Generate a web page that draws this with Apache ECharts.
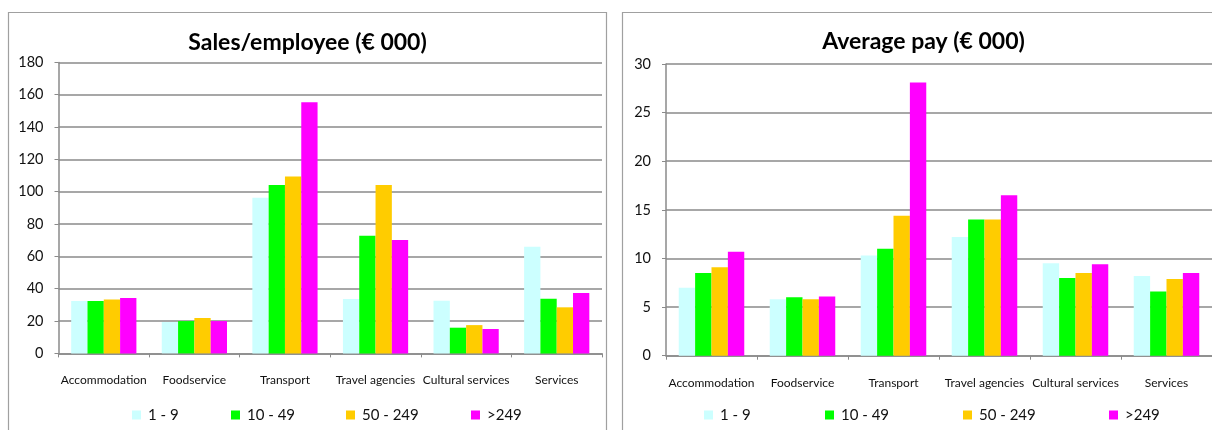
<!DOCTYPE html>
<html>
<head>
<meta charset="utf-8">
<script src="https://cdn.jsdelivr.net/npm/echarts@6/dist/echarts.min.js"></script>
<style>
  html, body { margin: 0; padding: 0; background: #fff; }
  #chart { width: 1212px; height: 430px; }
</style>
</head>
<body>
<div id="chart"></div>
<script>
// Sectors on the category axis
const categories = ['Accommodation', 'Foodservice', 'Transport', 'Travel agencies', 'Cultural services', 'Services'];

// Company size classes (number of employees)
const sizeClasses = ['1 - 9', '10 - 49', '50 - 249', '>249'];
const sizeColors = ['#CCFFFF', '#00FF00', '#FFCC00', '#FF00FF'];

// Sales per employee (€ 000) by size class
const sales_1_9 = [32.4, 19.4, 96.3, 33.6, 32.6, 66.0];
const sales_10_49 = [32.4, 20.0, 104.1, 72.8, 15.9, 33.8];
const sales_50_249 = [33.4, 21.9, 109.5, 104.1, 17.5, 28.5];
const sales_250 = [34.2, 20.0, 155.3, 70.1, 15.1, 37.3];

// Average pay (€ 000) by size class
const pay_1_9 = [7.0, 5.8, 10.3, 12.2, 9.5, 8.2];
const pay_10_49 = [8.5, 6.0, 11.0, 14.0, 8.0, 6.6];
const pay_50_249 = [9.1, 5.8, 14.4, 14.0, 8.5, 7.9];
const pay_250 = [10.7, 6.1, 28.1, 16.5, 9.4, 8.5];

// Value-axis ticks
const salesTicks = { min: 0, max: 180, interval: 20 };
const payTicks = { min: 0, max: 30, interval: 5 };

const FONT = 'Lato, "Open Sans", sans-serif';
const GRID_GRAY = '#8a8a8a';

const salesSeries = [sales_1_9, sales_10_49, sales_50_249, sales_250];
const paySeries = [pay_1_9, pay_10_49, pay_50_249, pay_250];

function xAxisFor(gridIndex) {
  return {
    type: 'category',
    gridIndex,
    data: categories,
    axisLine: { show: true, lineStyle: { color: GRID_GRAY, width: 1.5 } },
    axisTick: { show: true, alignWithLabel: false, length: 4, lineStyle: { color: GRID_GRAY } },
    axisLabel: { interval: 0, hideOverlap: false, color: '#111', fontFamily: FONT, fontSize: 12, margin: 21 }
  };
}

function yAxisFor(gridIndex, ticks) {
  return {
    type: 'value',
    gridIndex,
    min: ticks.min,
    max: ticks.max,
    interval: ticks.interval,
    axisLine: { show: true, lineStyle: { color: GRID_GRAY, width: 1.5 } },
    axisTick: { show: true, length: 4, lineStyle: { color: GRID_GRAY } },
    axisLabel: { color: '#111', fontFamily: FONT, fontSize: 14.5, margin: 15 },
    splitLine: { show: true, lineStyle: { color: GRID_GRAY, width: 1.5 } }
  };
}

function barsFor(values, axisIndex) {
  return sizeClasses.map((name, i) => ({
    name,
    type: 'bar',
    xAxisIndex: axisIndex,
    yAxisIndex: axisIndex,
    data: values[i],
    barGap: '0%',
    barCategoryGap: '28%',
    itemStyle: { color: sizeColors[i] },
    emphasis: { disabled: true }
  }));
}

// One single-entry legend per size class, placed along the bottom of each panel
const legendSpots = [
  [132, 231, 346, 471],
  [704, 825, 963, 1109]
];
const legends = [];
legendSpots.forEach(row => {
  row.forEach((x, i) => {
    legends.push({
      data: [sizeClasses[i]],
      left: x,
      top: 407,
      padding: 0,
      itemWidth: 9,
      itemHeight: 9,
      icon: 'rect',
      selectedMode: false,
      textStyle: { fontFamily: FONT, fontSize: 15, color: '#111', lineHeight: 16, padding: [0, 0, 0, 2] }
    });
  });
});

const chart = echarts.init(document.getElementById('chart'), null, { renderer: 'canvas' });

chart.setOption({
  animation: false,
  backgroundColor: '#ffffff',
  graphic: [
    { type: 'rect', shape: { x: 8.5, y: 12.5, width: 598, height: 440 },
      style: { fill: 'none', stroke: '#a0a0a0', lineWidth: 1.2 }, silent: true, z: -1 },
    { type: 'rect', shape: { x: 622.5, y: 12.5, width: 620, height: 440 },
      style: { fill: 'none', stroke: '#a0a0a0', lineWidth: 1.2 }, silent: true, z: -1 }
  ],
  title: [
    { text: 'Sales/employee (€ 000)', left: 307.5, top: 29, padding: 0, textAlign: 'center',
      textStyle: { fontFamily: FONT, fontWeight: 'bold', fontSize: 23, color: '#000', lineHeight: 28 } },
    { text: 'Average pay (€ 000)', left: 923.5, top: 28, padding: 0, textAlign: 'center',
      textStyle: { fontFamily: FONT, fontWeight: 'bold', fontSize: 23, color: '#000', lineHeight: 28 } }
  ],
  legend: legends,
  grid: [
    { left: 58.5, top: 62.4, width: 543.5, height: 291, containLabel: false },
    { left: 666, top: 64, width: 555, height: 291.7, containLabel: false }
  ],
  xAxis: [xAxisFor(0), xAxisFor(1)],
  yAxis: [yAxisFor(0, salesTicks), yAxisFor(1, payTicks)],
  series: [...barsFor(salesSeries, 0), ...barsFor(paySeries, 1)]
});
</script>
</body>
</html>
